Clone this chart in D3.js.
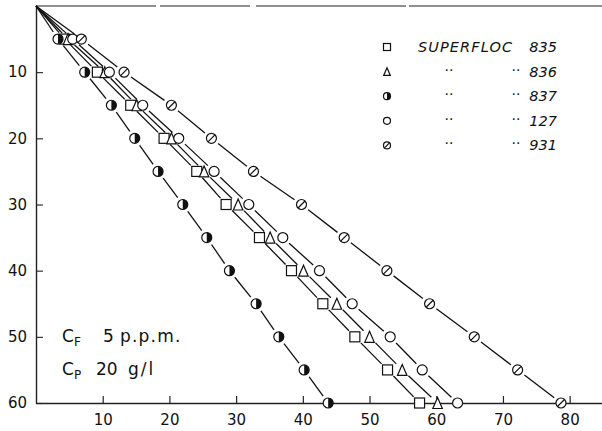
<!DOCTYPE html>
<html>
<head>
<meta charset="utf-8">
<script src="https://cdn.jsdelivr.net/npm/d3@7"></script>
<style>
  body { margin: 0; background: #fff; }
  svg { display: block; }
  text { font-family: 'DejaVu Sans', sans-serif; fill: #111; }
</style>
</head>
<body>
<div id="chart"></div>
<script>
// time values (y axis) shared by every series
var depth = [5, 10, 15, 20, 25, 30, 35, 40, 45, 50, 55, 60]

// x values, one array per flocculant
var s835 = [4.3, 9.2, 14.2, 19.2, 24.1, 28.5, 33.5, 38.3, 43.0, 47.8, 52.7, 57.5]
var s836 = [4.8, 10.3, 15.1, 20.3, 25.2, 30.3, 35.1, 40.1, 45.1, 50.0, 54.9, 60.2]
var s837 = [3.3, 7.3, 11.3, 14.8, 18.3, 22.0, 25.6, 29.0, 33.0, 36.4, 40.2, 43.8]
var s127 = [5.5, 11.0, 16.0, 21.4, 26.7, 31.9, 37.0, 42.5, 47.4, 53.1, 57.9, 63.2]
var s931 = [6.8, 13.2, 20.3, 26.3, 32.6, 39.8, 46.2, 52.6, 59.0, 65.7, 72.2, 78.7]

var legendNames = ['835', '836', '837', '127', '931']
var markerKinds = ['square', 'triangle', 'half', 'circle', 'slash']
var xTicks = [10, 20, 30, 40, 50, 60, 70, 80]
var yTicks = [10, 20, 30, 40, 50, 60]

var width = 602
var height = 431

var svg = d3
  .select('#chart')
  .append('svg')
  .attr('width', width)
  .attr('height', height)

var x = d3.scaleLinear().domain([0, 85]).range([36, 603])
var y = d3.scaleLinear().domain([0, 60]).range([6, 403])

var series = [s835, s836, s837, s127, s931].map(function(vals, i) {
  return {
    name: legendNames[i],
    kind: markerKinds[i],
    points: vals.map(function(v, j) { return [v, depth[j]] })
  }
})

// frame: top line (a bit broken, like the scan)
svg.append('line')
  .attr('x1', x(0)).attr('x2', width)
  .attr('y1', y(0)).attr('y2', y(0))
  .attr('stroke', '#222')
  .attr('stroke-width', 1.1)
  .attr('stroke-dasharray', '120,4,90,6,150,3,400')

// bottom axis, ticks point up into the plot
var xAxis = svg.append('g')
  .attr('transform', 'translate(0,' + y(60) + ')')
  .call(d3.axisBottom(x).tickValues(xTicks).tickSizeInner(-7).tickSizeOuter(0).tickPadding(11))
xAxis.select('.domain').attr('stroke', '#222').attr('stroke-width', 1.3)
xAxis.selectAll('.tick line').attr('stroke', '#222').attr('stroke-width', 1.2)
xAxis.selectAll('text').attr('font-size', 15).attr('font-family', "'DejaVu Sans', sans-serif").attr('fill', '#111')

// left axis, ticks point right
var yAxis = svg.append('g')
  .attr('transform', 'translate(' + x(0) + ',0)')
  .call(d3.axisLeft(y).tickValues(yTicks).tickSizeInner(-7).tickSizeOuter(0).tickPadding(9))
yAxis.select('.domain').attr('stroke', '#222').attr('stroke-width', 1.4)
yAxis.selectAll('.tick line').attr('stroke', '#222').attr('stroke-width', 1.1)
yAxis.selectAll('text').attr('font-size', 15).attr('font-family', "'DejaVu Sans', sans-serif").attr('fill', '#111')

// connecting lines, broken around each marker
var gap = 8.5
var lines = svg.append('g')
series.forEach(function(s) {
  var pts = [[x(0), y(0)]].concat(s.points.map(function(p) { return [x(p[0]), y(p[1])] }))
  for (var i = 0; i < pts.length - 1; i++) {
    var a = pts[i], b = pts[i + 1]
    var dx = b[0] - a[0], dy = b[1] - a[1]
    var len = Math.sqrt(dx * dx + dy * dy)
    var t0 = i === 0 ? 0 : gap / len
    var t1 = 1 - gap / len
    lines.append('line')
      .attr('x1', a[0] + dx * t0).attr('y1', a[1] + dy * t0)
      .attr('x2', a[0] + dx * t1).attr('y2', a[1] + dy * t1)
      .attr('stroke', '#111')
      .attr('stroke-width', 1.3)
  }
})

function drawMarker(g, kind, r) {
  var sw = 1.2
  if (kind === 'square') {
    g.append('rect')
      .attr('x', -r).attr('y', -r).attr('width', 2 * r).attr('height', 2 * r)
      .attr('fill', 'white').attr('stroke', '#111').attr('stroke-width', sw)
  } else if (kind === 'triangle') {
    var h = r * 1.1
    g.append('path')
      .attr('d', 'M0,' + (-h) + 'L' + (r * 0.95) + ',' + h + 'L' + (-r * 0.95) + ',' + h + 'Z')
      .attr('fill', 'white').attr('stroke', '#111').attr('stroke-width', sw)
  } else if (kind === 'circle') {
    g.append('circle').attr('r', r)
      .attr('fill', 'white').attr('stroke', '#111').attr('stroke-width', sw)
  } else if (kind === 'half') {
    g.append('circle').attr('r', r)
      .attr('fill', 'white').attr('stroke', '#111').attr('stroke-width', sw)
    g.append('path')
      .attr('d', 'M0,' + (-r) + 'A' + r + ',' + r + ' 0 0,1 0,' + r + 'Z')
      .attr('fill', '#111')
  } else if (kind === 'slash') {
    g.append('circle').attr('r', r)
      .attr('fill', 'white').attr('stroke', '#111').attr('stroke-width', sw)
    var d = r * 0.7
    g.append('line')
      .attr('x1', -d).attr('y1', d).attr('x2', d).attr('y2', -d)
      .attr('stroke', '#111').attr('stroke-width', sw)
  }
}

// markers
series.forEach(function(s) {
  svg.append('g')
    .selectAll('g')
    .data(s.points)
    .join('g')
    .attr('transform', function(p) { return 'translate(' + x(p[0]) + ',' + y(p[1]) + ')' })
    .each(function() { drawMarker(d3.select(this), s.kind, 5) })
})

// legend
var legend = svg.append('g')
series.forEach(function(s, i) {
  var ly = 47 + i * 24.6
  var m = legend.append('g').attr('transform', 'translate(387,' + ly + ')')
  drawMarker(m, s.kind, 3.5)
  if (i === 0) {
    legend.append('text')
      .attr('x', 418).attr('y', ly + 5)
      .attr('font-size', 14.5)
      .attr('font-style', 'italic')
      .attr('letter-spacing', 1.1)
      .text('SUPERFLOC')
  } else {
    legend.append('text').attr('x', 449).attr('y', ly + 3).attr('font-size', 14).attr('text-anchor', 'middle').text('··')
    legend.append('text').attr('x', 516).attr('y', ly + 3).attr('font-size', 14).attr('text-anchor', 'middle').text('··')
  }
  legend.append('text')
    .attr('x', 557).attr('y', ly + 5)
    .attr('text-anchor', 'end')
    .attr('font-size', 14.5)
    .attr('font-style', 'italic')
    .text(s.name)
})

// conditions note
var note = svg.append('g').attr('font-size', 17)
var t1 = note.append('text').attr('x', 62).attr('y', 342)
t1.append('tspan').text('C')
t1.append('tspan').attr('font-size', 12).attr('dy', 4).text('F')
t1.append('tspan').attr('x', 103).attr('dy', -4).text('5')
t1.append('tspan').attr('x', 120).attr('letter-spacing', 1.2).text('p.p.m.')
var t2 = note.append('text').attr('x', 62).attr('y', 375)
t2.append('tspan').text('C')
t2.append('tspan').attr('font-size', 12).attr('dy', 4).text('P')
t2.append('tspan').attr('x', 96).attr('dy', -4).text('20')
t2.append('tspan').attr('x', 128).attr('letter-spacing', 2).text('g/l')
</script>
</body>
</html>
